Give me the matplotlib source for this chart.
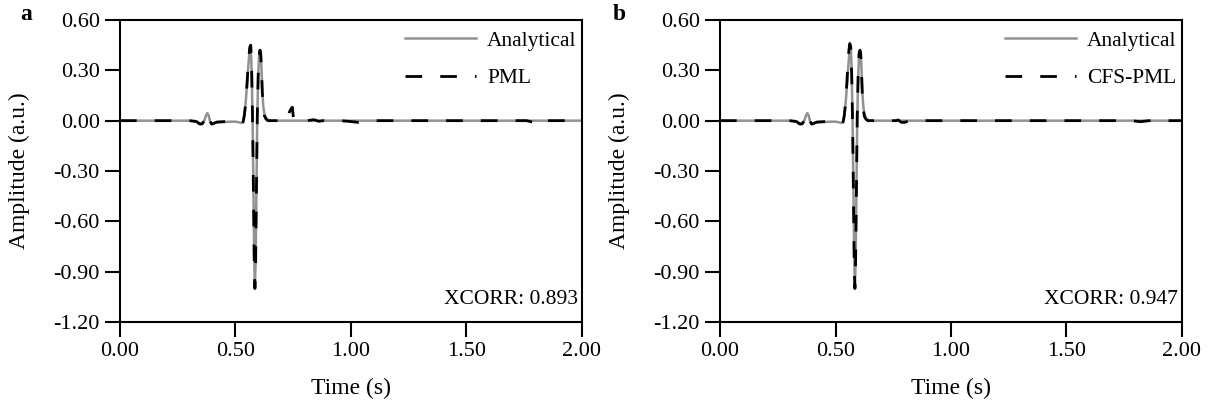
import matplotlib
matplotlib.use("Agg")
import matplotlib.pyplot as plt

# ---------------- data ----------------
t_ana = [0.00, 0.30, 0.33, 0.345, 0.355, 0.365, 0.372, 0.378, 0.384, 0.390, 0.397,
         0.405, 0.42, 0.45, 0.48, 0.50, 0.51, 0.52, 0.527, 0.533, 0.538, 0.543,
         0.548, 0.553, 0.558, 0.562, 0.566, 0.570, 0.574, 0.578, 0.581, 0.584,
         0.587, 0.590, 0.594, 0.598, 0.602, 0.606, 0.609, 0.612, 0.616, 0.620,
         0.625, 0.632, 0.640, 0.650, 0.67, 0.70, 0.80, 1.00, 1.50, 2.00]
amp_ana = [0.0, 0.0, -0.003, -0.015, -0.018, 0.0, 0.03, 0.045, 0.03, -0.005, -0.022,
           -0.018, -0.01, -0.008, -0.006, -0.006, -0.008, -0.012, -0.013, -0.005, 0.03, 0.09,
           0.18, 0.28, 0.37, 0.43, 0.445, 0.30, 0.0, -0.45, -0.82, -1.0,
           -0.85, -0.50, 0.0, 0.25, 0.39, 0.42, 0.41, 0.33, 0.18, 0.09,
           0.04, 0.015, 0.005, 0.0, 0.0, 0.0, 0.0, 0.0, 0.0, 0.0]

t_pml = [0.00, 0.30, 0.33, 0.345, 0.355, 0.365, 0.372, 0.378, 0.384, 0.390, 0.397,
         0.405, 0.42, 0.45, 0.48, 0.50, 0.51, 0.52, 0.527, 0.533, 0.538, 0.543,
         0.548, 0.553, 0.558, 0.562, 0.566, 0.570, 0.574, 0.578, 0.581, 0.584,
         0.587, 0.590, 0.594, 0.598, 0.602, 0.606, 0.609, 0.612, 0.616, 0.620,
         0.625, 0.632, 0.640, 0.650, 0.67, 0.70, 0.727, 0.733, 0.740, 0.746,
         0.749, 0.752, 0.76, 0.785, 0.80, 0.82, 0.84, 0.86, 0.88, 0.95, 0.99,
         1.03, 1.06, 1.50, 1.76, 1.79, 1.81, 1.83, 1.85, 2.00]
amp_pml = [0.0, 0.0, -0.005, -0.02, -0.02, 0.0, 0.03, 0.045, 0.03, -0.005, -0.02,
           -0.016, -0.008, -0.006, -0.005, -0.006, -0.01, -0.016, -0.018, -0.008, 0.03, 0.09,
           0.18, 0.29, 0.38, 0.44, 0.45, 0.30, 0.0, -0.46, -0.84, -1.0,
           -0.86, -0.50, 0.0, 0.26, 0.39, 0.42, 0.40, 0.32, 0.17, 0.08,
           0.03, 0.01, 0.0, 0.0, 0.0, 0.0, 0.0, 0.05, 0.07, 0.08,
           0.04, 0.0, 0.0, -0.006, -0.004, 0.002, 0.006, -0.004, 0.0, 0.0, -0.004,
           -0.01, 0.0, 0.0, 0.0, -0.01, -0.028, -0.015, 0.0, 0.0]

t_cfs = [0.00, 0.30, 0.33, 0.345, 0.355, 0.365, 0.372, 0.378, 0.384, 0.390, 0.397,
         0.405, 0.42, 0.45, 0.48, 0.50, 0.51, 0.52, 0.527, 0.533, 0.538, 0.543,
         0.548, 0.553, 0.558, 0.562, 0.566, 0.570, 0.574, 0.578, 0.581, 0.584,
         0.587, 0.590, 0.594, 0.598, 0.602, 0.606, 0.609, 0.612, 0.616, 0.620,
         0.625, 0.632, 0.640, 0.650, 0.67, 0.70, 0.76, 0.772, 0.785, 0.80,
         0.82, 1.00, 1.78, 1.82, 1.86, 2.00]
amp_cfs = [0.0, 0.0, -0.005, -0.02, -0.02, 0.0, 0.03, 0.045, 0.03, -0.005, -0.02,
           -0.016, -0.008, -0.006, -0.005, -0.006, -0.01, -0.016, -0.018, -0.008, 0.03, 0.10,
           0.20, 0.32, 0.42, 0.46, 0.44, 0.28, -0.02, -0.48, -0.86, -1.0,
           -0.84, -0.48, 0.02, 0.27, 0.40, 0.42, 0.40, 0.31, 0.16, 0.07,
           0.025, 0.008, 0.0, 0.0, 0.0, 0.0, 0.0, 0.004, -0.01, -0.01,
           0.0, 0.0, 0.0, -0.006, 0.0, 0.0]

xticks = [0.0, 0.5, 1.0, 1.5, 2.0]
yticks = [0.6, 0.3, 0.0, -0.3, -0.6, -0.9, -1.2]
panels = [
    ("a", "PML", t_pml, amp_pml, "XCORR: 0.893"),
    ("b", "CFS-PML", t_cfs, amp_cfs, "XCORR: 0.947"),
]

# ---------------- figure ----------------
plt.rcParams["font.family"] = ["Liberation Serif", "DejaVu Serif"]

W, H = 1216, 408
fig = plt.figure(figsize=(W / 100, H / 100), dpi=100)

axes_px = [(120, 20, 462, 302), (720, 20, 462, 302)]
letter_px = [20, 613]

for (letter, name, tt, aa, xc), (lx, ty, w, h), lpx in zip(panels, axes_px, letter_px):
    ax = fig.add_axes([lx / W, (H - ty - h) / H, w / W, h / H])
    ax.plot(t_ana, amp_ana, color="#929292", lw=1.8, label="Analytical", zorder=2)
    ax.plot(tt, aa, color="black", lw=2.0, dashes=(6, 6.5), label=name, zorder=3)
    ax.set_xlim(0, 2.0)
    ax.set_ylim(-1.2, 0.6)
    ax.set_xticks(xticks)
    ax.set_yticks(yticks)
    ax.set_xticklabels([f"{v:.2f}" for v in xticks])
    ax.set_yticklabels([f"{v:.2f}" for v in yticks])
    ax.tick_params(direction="out", length=11, width=1.5, labelsize=16, pad=3.5)
    for sp in ax.spines.values():
        sp.set_linewidth(1.5)
    ax.set_xlabel("Time (s)", fontsize=17, labelpad=12)
    ax.set_ylabel("Amplitude (a.u.)", fontsize=17)
    ax.yaxis.set_label_coords(-0.195, 0.5)
    ax.legend(loc="upper right", bbox_to_anchor=(1.03, 1.028), frameon=False,
              fontsize=15.5, handlelength=3.3, labelspacing=0.8, handletextpad=0.5)
    ax.text(0.992, 0.075, xc, transform=ax.transAxes, ha="right", va="center",
            fontsize=15.5)
    fig.text(lpx / W, (H - 15) / H, letter, fontsize=17, fontweight="bold",
             ha="left", va="center")

fig.savefig("out.png", dpi=100)
